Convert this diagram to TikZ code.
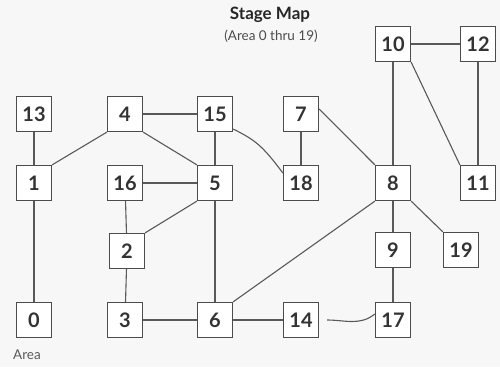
\documentclass[tikz,border=0pt]{standalone}
\usepackage{fontspec}
\setmainfont{Lato}
\begin{document}
\begin{tikzpicture}[x=1pt,y=-1pt,
  area/.style={draw=black!70,line width=1.3pt,fill=white,minimum width=35pt,minimum height=35pt,inner sep=0pt,font=\fontsize{20}{20}\selectfont\bfseries,text=black!80},
  link/.style={draw=black!65,line width=1.1pt}]
\fill[black!3] (0,0) rectangle (500,367);
\useasboundingbox (0,0) rectangle (500,367);
\node[font=\fontsize{17}{17}\selectfont\bfseries,text=black!85] (title) at (270,15) {Stage Map};
\node[font=\fontsize{13.5}{13.5}\selectfont,text=black!70] (sub) at (271,36) {(Area 0 thru 19)};
\node[font=\fontsize{13.5}{13.5}\selectfont,text=black!65] (lbl) at (27,355) {Area};
\node[area] (n13) at (34,114) {13};
\node[area] (n4) at (125,114) {4};
\node[area] (n15) at (215,114) {15};
\node[area] (n7) at (301,114) {7};
\node[area] (n10) at (393,44) {10};
\node[area] (n12) at (478,44) {12};
\node[area] (n1) at (34,183) {1};
\node[area] (n16) at (125,183) {16};
\node[area] (n5) at (215,183) {5};
\node[area] (n18) at (301,183) {18};
\node[area] (n8) at (393,183) {8};
\node[area] (n11) at (478,183) {11};
\node[area] (n2) at (127,251) {2};
\node[area] (n9) at (393,250) {9};
\node[area] (n19) at (461,250) {19};
\node[area] (n0) at (34,320) {0};
\node[area] (n3) at (125,320) {3};
\node[area] (n6) at (215,320) {6};
\node[area] (n14) at (301,320) {14};
\node[area] (n17) at (393,320) {17};
\draw[link] (n13) -- (n1);
\draw[link] (n1.north east) -- (n4.south west);
\draw[link] (n4) -- (n15);
\draw[link] (n4.south east) -- (n5.north west);
\draw[link] (n15) -- (n5);
\draw[link] (n15.east) ++(0,15) coordinate (c15) .. controls (255,140) and (262,145) .. (n18.west |- 0,173);
\draw[link] (n7) -- (n18);
\draw[link] (n7.east) ++(0,-5) coordinate (c7) -- (n8.north west);
\draw[link] (n16) -- (n5);
\draw[link] (n16) -- (n2);
\draw[link] (n2.north east) -- (n5.south west);
\draw[link] (n2) -- (n3);
\draw[link] (n1) -- (n0);
\draw[link] (n3) -- (n6);
\draw[link] (n5) -- (n6);
\draw[link] (n6.north east) -- (n8.south west);
\draw[link] (n6) -- (n14);
\draw[link] ([xshift=8pt]n14.east) coordinate (c14) .. controls (345,320) and (360,326) .. ([yshift=6pt]n17.west);
\draw[link] (n8) -- (n9);
\draw[link] (n9) -- (n17);
\draw[link] (n8.south east) -- (n19.north west);
\draw[link] (n8) -- (n10);
\draw[link] (n10) -- (n12);
\draw[link] (n10.south east) -- (n11.north west);
\draw[link] (n12) -- (n11);
\end{tikzpicture}
\end{document}
